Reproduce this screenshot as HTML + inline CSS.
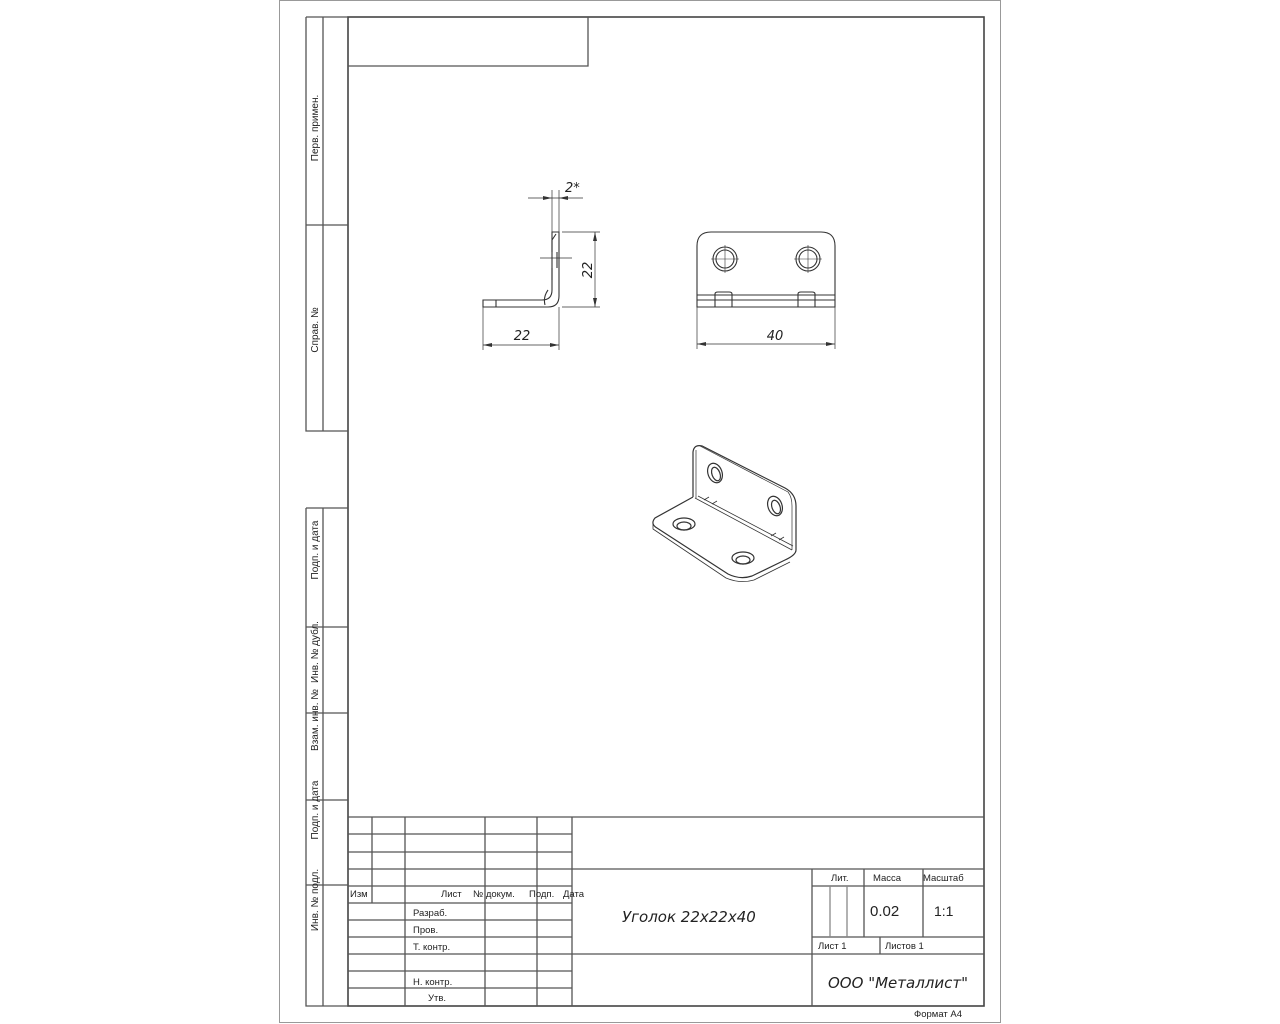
<!DOCTYPE html>
<html><head><meta charset="utf-8"><style>
html,body{margin:0;padding:0;background:#fff;}
svg{display:block;}
text{font-family:"Liberation Sans",sans-serif;fill:#222;}
.it{font-family:"DejaVu Sans","Liberation Sans",sans-serif;font-style:italic;}
</style></head><body>
<svg width="1280" height="1024" viewBox="0 0 1280 1024" xmlns="http://www.w3.org/2000/svg">
<g fill="none" stroke="#555" stroke-width="1.3">
<!-- outer sheet -->
<rect x="279.5" y="0.5" width="721" height="1022" stroke="#999" stroke-width="1"/>
<!-- inner frame -->
<rect x="348" y="17" width="636" height="989" stroke="#444" stroke-width="1.6"/>
<!-- top-left box -->
<path d="M348 66 H588 V17"/>
<!-- left strip top -->
<path d="M306 17 V431 H348 M323 17 V431 M306 17 H348 M306 225 H348"/>
<!-- left strip bottom -->
<path d="M306 508 V1006 H348 M323 508 V1006 M306 508 H348 M306 627 H348 M306 713 H348 M306 800 H348 M306 885 H348"/>
<!-- title block -->
<path d="M348 817 H984"/>
<path d="M348 834 H572 M348 852 H572 M348 869 H984 M348 886 H572 M348 903 H572 M348 920 H572 M348 937 H572 M348 954 H984 M348 971 H572 M348 988 H572"/>
<path d="M372 817 V903 M405 817 V1006 M485 817 V1006 M537 817 V1006 M572 817 V1006"/>
<path d="M812 869 V1006 M864 869 V937 M923 869 V937 M812 886 H984 M812 937 H984 M880 937 V954"/>
<path d="M830 886 V937 M847 886 V937" stroke="#888"/>
</g>
<!-- side view -->
<g fill="none" stroke="#333" stroke-width="1.1">
<path d="M552 232 V290 Q552 300 542 300 H483 V307 H548 Q559 307 559 296 V232 Z"/>
<path d="M496 300 V307 M548 290 Q543 297 545 305" />
<path d="M552 240 L556 234 M552 240 V252 M552 268 V280 M557 252 V268"/>
<path d="M540 258 H572" stroke-width="0.7"/>
<path d="M552 190 V232 M559 190 V232 M528 198 H583" stroke-width="0.7"/>
<path d="M562 232 H600 M562 307 H600 M595 232 V307" stroke-width="0.7"/>
<path d="M483 307 V350 M559 307 V350 M483 345 H559" stroke-width="0.7"/>
</g>
<g fill="#333">
<path d="M552 198 l-9 -2 v4z M559 198 l9 -2 v4z"/>
<path d="M595 232 l-2 9 h4z M595 307 l-2 -9 h4z"/>
<path d="M483 345 l9 -2 v4z M559 345 l-9 -2 v4z"/>
</g>
<text class="it" x="565" y="192" font-size="13">2*</text>
<text class="it" x="0" y="0" font-size="13" transform="translate(592,270) rotate(-90)" text-anchor="middle">22</text>
<text class="it" x="522" y="340" font-size="13" text-anchor="middle">22</text>
<!-- front view -->
<g fill="none" stroke="#333" stroke-width="1.1">
<path d="M697 307 V246 Q697 232 711 232 H821 Q835 232 835 246 V307 Z"/>
<path d="M697 295 H835 M697 300 H835"/>
<path d="M715 307 V294 Q715 292 718 292 H729 Q732 292 732 294 V307 M798 307 V294 Q798 292 801 292 H812 Q815 292 815 294 V307"/>
<circle cx="725" cy="259" r="12"/><circle cx="725" cy="259" r="9"/>
<circle cx="808" cy="259" r="12"/><circle cx="808" cy="259" r="9"/>
<path d="M711 259 H739 M725 245 V273 M794 259 H822 M808 245 V273" stroke-width="0.6"/>
<path d="M697 307 V349 M835 307 V349 M697 344 H835" stroke-width="0.7"/>
</g>
<g fill="#333"><path d="M697 344 l9 -2 v4z M835 344 l-9 -2 v4z"/></g>
<text class="it" x="775" y="340" font-size="13" text-anchor="middle">40</text>
<!-- 3D view -->
<g fill="none" stroke="#333" stroke-width="1.2">
<path d="M693 497 V452 Q694 444 702 446 L785 488 Q796 494 796 506 V550"/>
<path d="M696 450 V498 M700 446 L788 492 Q792 497 792 506 V550" stroke-width="0.7"/>
<path d="M693 497 L655 518 Q650 524 657 528 L728 574 Q740 580 752 576 L785 560 Q796 555 796 550"/>
<path d="M653 524 V529 L726 578 Q740 584 754 580 L790 562" stroke-width="0.8"/>
<path d="M695 498 L792 550 M698 496 L793 546" stroke-width="0.8"/>
<path d="M704 500 l5 -3 M712 504 l5 -3 M771 536 l5 -3 M779 540 l5 -3" stroke-width="0.8"/>
<ellipse cx="715" cy="473" rx="7" ry="10" transform="rotate(-20 715 473)"/>
<ellipse cx="716" cy="474" rx="4" ry="7" transform="rotate(-20 716 474)"/>
<ellipse cx="775" cy="506" rx="7" ry="10" transform="rotate(-20 775 506)"/>
<ellipse cx="776" cy="507" rx="4" ry="7" transform="rotate(-20 776 507)"/>
<ellipse cx="684" cy="524" rx="11" ry="6"/><ellipse cx="684" cy="526" rx="7" ry="4"/>
<ellipse cx="743" cy="558" rx="11" ry="6"/><ellipse cx="743" cy="560" rx="7" ry="4"/>
</g>
<!-- side strip labels -->
<g font-size="10">
<text transform="translate(318,128) rotate(-90)" text-anchor="middle">Перв. примен.</text>
<text transform="translate(318,330) rotate(-90)" text-anchor="middle">Справ. №</text>
<text transform="translate(318,550) rotate(-90)" text-anchor="middle">Подп. и дата</text>
<text transform="translate(318,652) rotate(-90)" text-anchor="middle">Инв. № дубл.</text>
<text transform="translate(318,720) rotate(-90)" text-anchor="middle">Взам. инв. №</text>
<text transform="translate(318,810) rotate(-90)" text-anchor="middle">Подп. и дата</text>
<text transform="translate(318,900) rotate(-90)" text-anchor="middle">Инв. № подл.</text>
</g>
<!-- title block text -->
<g font-size="9.5">
<text x="350" y="897">Изм</text>
<text x="441" y="897">Лист</text>
<text x="473" y="897">№ докум.</text>
<text x="529" y="897">Подп.</text>
<text x="563" y="897">Дата</text>
<text x="413" y="916">Разраб.</text>
<text x="413" y="933">Пров.</text>
<text x="413" y="950">Т. контр.</text>
<text x="413" y="985">Н. контр.</text>
<text x="428" y="1001">Утв.</text>
<text x="831" y="881">Лит.</text>
<text x="873" y="881">Масса</text>
<text x="923" y="881">Масштаб</text>
<text x="818" y="949">Лист 1</text>
<text x="885" y="949">Листов 1</text>
<text x="914" y="1017">Формат А4</text>
</g>
<text x="870" y="916" font-size="15">0.02</text>
<text x="934" y="916" font-size="14">1:1</text>
<text class="it" x="622" y="922" font-size="15">Уголок 22x22x40</text>
<text class="it" x="828" y="988" font-size="15">ООО "Металлист"</text>
</svg>
</body></html>
